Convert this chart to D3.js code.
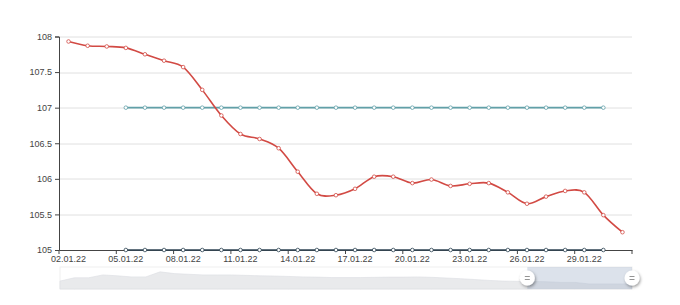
<!DOCTYPE html>
<html>
<head>
<meta charset="utf-8">
<style>
  body { margin: 0; background: #fff; }
  svg text { font-family: "Liberation Sans", Arial, sans-serif; }
</style>
<script src="https://cdn.jsdelivr.net/npm/d3@7"></script>
</head>
<body>
<svg width="680" height="305"></svg>
<script>
// categories (one per day)
var days = ["02.01.22","03.01.22","04.01.22","05.01.22","06.01.22","07.01.22","08.01.22","09.01.22",
  "10.01.22","11.01.22","12.01.22","13.01.22","14.01.22","15.01.22","16.01.22","17.01.22","18.01.22",
  "19.01.22","20.01.22","21.01.22","22.01.22","23.01.22","24.01.22","25.01.22","26.01.22","27.01.22",
  "28.01.22","29.01.22","30.01.22","31.01.22"];

var price = [107.93, 107.87, 107.86, 107.84, 107.75, 107.66, 107.57, 107.25, 106.89, 106.63,
  106.56, 106.43, 106.10, 105.79, 105.77, 105.86, 106.03, 106.03, 105.94, 105.99,
  105.90, 105.93, 105.94, 105.81, 105.65, 105.75, 105.83, 105.81, 105.49, 105.25];

// horizontal levels, from 05.01 to 30.01
var levelDays = days.slice(3, 29);
var upper = levelDays.map(function() { return 107; });
var lower = levelDays.map(function() { return 105; });

var yTicks = [105, 105.5, 106, 106.5, 107, 107.5, 108];

// overview shadow in the zoom slider (relative height)
var shadow = [0.36, 0.51, 0.51, 0.64, 0.6, 0.55, 0.55, 0.78, 0.7, 0.67, 0.64, 0.64, 0.64, 0.62,
  0.6, 0.59, 0.57, 0.55, 0.54, 0.52, 0.52, 0.52, 0.53, 0.54, 0.54, 0.55, 0.53, 0.5, 0.47, 0.43,
  0.39, 0.36, 0.35, 0.34, 0.33, 0.3, 0.3, 0.23, 0.23, 0.23, 0.23];
var sliderRange = [0.817, 1];

var svg = d3.select("svg"),
    margin = {top: 36.5, right: 48, bottom: 55, left: 59},
    width = +svg.attr("width") - margin.left - margin.right,
    height = +svg.attr("height") - margin.top - margin.bottom,
    g = svg.append("g").attr("transform", "translate(" + margin.left + "," + margin.top + ")");

var x = d3.scaleBand().domain(days).range([0, width]);
var y = d3.scaleLinear().domain([105, 108]).range([height, 0]);

var cx = function(d) { return x(d) + x.bandwidth() / 2; };

// grid lines
g.append("g")
    .attr("class", "grid")
  .selectAll("line")
  .data(yTicks.filter(function(d) { return d !== 105; }))
  .enter().append("line")
    .attr("x1", 0).attr("x2", width)
    .attr("y1", function(d) { return Math.round(y(d)) + 0.5; })
    .attr("y2", function(d) { return Math.round(y(d)) + 0.5; })
    .attr("stroke", "#e0e0e0");

// y axis
var yAxis = g.append("g")
    .attr("class", "axis axis--y")
    .call(d3.axisLeft(y).tickValues(yTicks).tickSize(4).tickPadding(3).tickFormat(function(d) { return d; }));
yAxis.select(".domain").attr("stroke", "#444");
yAxis.selectAll(".tick line").attr("stroke", "#444");
yAxis.selectAll("text").attr("fill", "#444").style("font-size", "9px");

// x axis: labels at band centers, ticks on band edges
var labelDays = days.filter(function(d, i) { return i % 3 === 0; });
var xAxis = g.append("g")
    .attr("class", "axis axis--x")
    .attr("transform", "translate(0," + height + ")")
    .call(d3.axisBottom(x).tickValues(labelDays).tickSize(0).tickPadding(6));
xAxis.select(".domain").attr("stroke", "#444");
xAxis.selectAll("text").attr("fill", "#444").style("font-size", "9px");
xAxis.selectAll(".edge")
  .data(labelDays.map(function(d) { return x(d); }).concat([width]))
  .enter().append("line")
    .attr("class", "edge")
    .attr("x1", function(d) { return d; })
    .attr("x2", function(d) { return d; })
    .attr("y1", 0).attr("y2", 4)
    .attr("stroke", "#444");

var smooth = d3.line()
    .x(function(d) { return cx(d.day); })
    .y(function(d) { return y(d.value); })
    .curve(d3.curveCardinal.tension(0));

function series(dayList, values, color, cls) {
  var data = dayList.map(function(d, i) { return {day: d, value: values[i]}; });
  var s = g.append("g").attr("class", cls);
  s.append("path")
      .datum(data)
      .attr("d", smooth)
      .attr("fill", "none")
      .attr("stroke", color)
      .attr("stroke-width", 1.6);
  s.selectAll("circle")
    .data(data)
    .enter().append("circle")
      .attr("cx", function(d) { return cx(d.day); })
      .attr("cy", function(d) { return y(d.value); })
      .attr("r", 1.8)
      .attr("fill", "#fff")
      .attr("stroke", color)
      .attr("stroke-width", 0.8);
}

series(levelDays, lower, "#2f4554", "lower");
series(levelDays, upper, "#61a0a8", "upper");
series(days, price, "#d24a44", "price");

// zoom slider
var sl = svg.append("g")
    .attr("class", "slider")
    .attr("transform", "translate(" + (margin.left + 1) + ",267)");
var sw = width - 1, sh = 22;
var sx = d3.scaleLinear().domain([0, shadow.length - 1]).range([0, sw]);
var sy = d3.scaleLinear().domain([0, 1]).range([sh, 0]);
var px = d3.scaleLinear().domain([0, 1]).range([0, sw]);

sl.append("rect")
    .attr("width", sw).attr("height", sh)
    .attr("fill", "#fff")
    .attr("stroke", "#f0f0f0");

sl.append("path")
    .datum(shadow)
    .attr("d", d3.area()
      .x(function(d, i) { return sx(i); })
      .y0(sh)
      .y1(function(d) { return sy(d); }))
    .attr("fill", "#e9eaec")
    .attr("stroke", "#dcdee2")
    .attr("stroke-width", 0.6);

sl.append("rect")
    .attr("x", px(sliderRange[0]))
    .attr("width", px(sliderRange[1]) - px(sliderRange[0]))
    .attr("height", sh)
    .attr("fill", "rgba(167,183,204,0.4)");

var defs = svg.append("defs");
var f = defs.append("filter").attr("id", "hs").attr("x", "-50%").attr("y", "-50%").attr("width", "200%").attr("height", "200%");
f.append("feDropShadow").attr("dx", 1).attr("dy", 1.5).attr("stdDeviation", 1.4).attr("flood-color", "#000").attr("flood-opacity", 0.4);

var handles = sl.selectAll(".handle")
  .data(sliderRange)
  .enter().append("g")
    .attr("class", "handle")
    .attr("transform", function(d) { return "translate(" + px(d) + "," + (sh / 2) + ")"; });
handles.append("circle")
    .attr("r", 7.5)
    .attr("fill", "#fff")
    .attr("filter", "url(#hs)");
handles.selectAll("line")
  .data([-1.5, 1.5])
  .enter().append("line")
    .attr("x1", -2.5).attr("x2", 2.5)
    .attr("y1", function(d) { return d; })
    .attr("y2", function(d) { return d; })
    .attr("stroke", "#888")
    .attr("stroke-width", 0.9);
</script>
</body>
</html>
